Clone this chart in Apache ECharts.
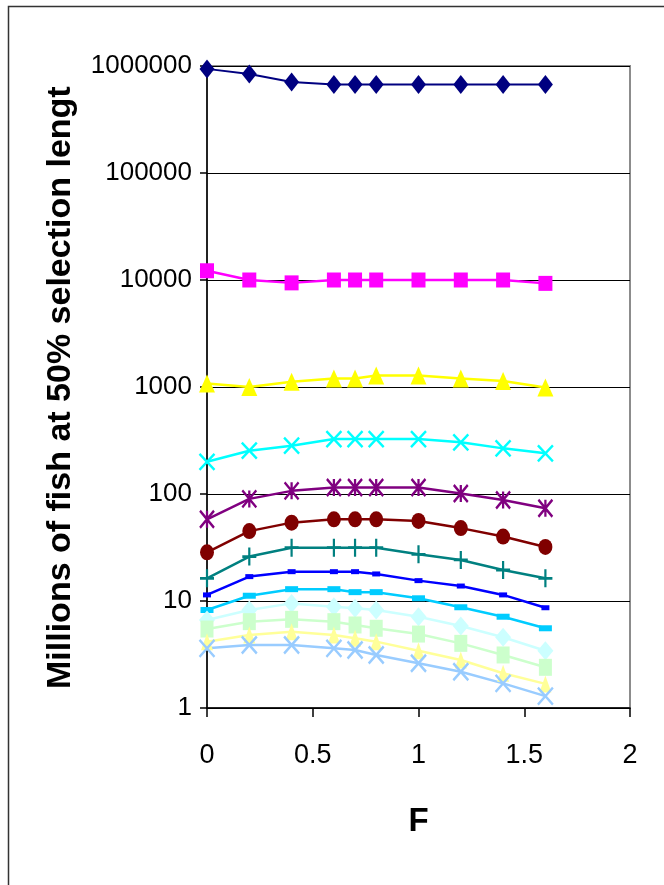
<!DOCTYPE html>
<html>
<head>
<meta charset="utf-8">
<script src="https://cdn.jsdelivr.net/npm/echarts@6/dist/echarts.min.js"></script>
<style>
html,body{margin:0;padding:0;background:#fff;}
#chart{width:664px;height:885px;}
</style>
</head>
<body>
<div id="chart"></div>
<script>
// F values (x axis)
const F = [0, 0.2, 0.4, 0.6, 0.7, 0.8, 1.0, 1.2, 1.4, 1.6];
// Millions of fish, one array per series (top to bottom)
const s1 = [940000, 840000, 710000, 670000, 670000, 670000, 670000, 670000, 670000, 670000];
const s2 = [12200, 10000, 9400, 10000, 10000, 10000, 10000, 10000, 10000, 9300];
const s3 = [1080, 1000, 1120, 1200, 1200, 1280, 1280, 1200, 1140, 990];
const s4 = [200, 254, 283, 326, 326, 326, 326, 304, 267, 240];
const s5 = [58, 90, 107, 115, 115, 115, 115, 101, 88, 73.5];
const s6 = [28.5, 45, 54, 58, 58, 58, 56, 48, 40, 32];
const s7 = [16.3, 26, 31.5, 31.5, 31.5, 31.5, 27.3, 24.2, 19.5, 16.3];
const s8 = [11.4, 16.9, 18.8, 18.8, 18.8, 17.9, 15.5, 13.8, 11.4, 8.65];
const s9 = [8.24, 11.2, 12.9, 12.9, 12.1, 12.1, 10.6, 8.74, 7.13, 5.56];
const s10 = [6.64, 8.24, 9.5, 8.85, 8.55, 8.24, 7.13, 5.84, 4.58, 3.43];
const s11 = [5.47, 6.41, 6.74, 6.41, 5.97, 5.56, 4.91, 4.02, 3.13, 2.40];
const s12 = [4.17, 4.81, 5.17, 4.81, 4.48, 4.17, 3.43, 2.81, 2.11, 1.68];
const s13 = [3.61, 3.88, 3.88, 3.61, 3.48, 3.13, 2.62, 2.18, 1.70, 1.29];
// axis tick labels
const xTicks = [0, 0.5, 1, 1.5, 2];
const yTicks = [1, 10, 100, 1000, 10000, 100000, 1000000];

const X_SYM = 'path://M0,0L10,10M10,0L0,10';
const STAR_SYM = 'path://M0,0L10,10M10,0L0,10M5,0L5,10';
const PLUS_SYM = 'path://M5,0L5,10M0,5L10,5';

const styles = [
  {d: s1,  c: '#000080', sym: 'diamond',  size: [15, 19], lw: 2},
  {d: s2,  c: '#FF00FF', sym: 'rect',     size: [14, 15], lw: 2.5},
  {d: s3,  c: '#FFFF00', sym: 'triangle', size: [16, 18], lw: 2.5},
  {d: s4,  c: '#00FFFF', sym: X_SYM,      size: [15, 16], lw: 2.5, stroke: true},
  {d: s5,  c: '#800080', sym: STAR_SYM,   size: [14, 17], lw: 2.5, stroke: true},
  {d: s6,  c: '#800000', sym: 'circle',   size: [14, 16], lw: 2.5},
  {d: s7,  c: '#008080', sym: PLUS_SYM,   size: [14, 18], lw: 2.5, stroke: true},
  {d: s8,  c: '#0000FF', sym: 'rect',     size: [8, 5],   lw: 2.5},
  {d: s9,  c: '#00CCFF', sym: 'rect',     size: [13, 6],  lw: 2.5},
  {d: s10, c: '#CCFFFF', sym: 'diamond',  size: [16, 19], lw: 2.5},
  {d: s11, c: '#CCFFCC', sym: 'rect',     size: [13, 17], lw: 2.5},
  {d: s12, c: '#FFFF99', sym: 'triangle', size: [12, 17], lw: 2.5},
  {d: s13, c: '#99CCFF', sym: X_SYM,      size: [15, 17], lw: 2.5, stroke: true}
];

const series = styles.map(function (s) {
  return {
    type: 'line',
    data: F.map(function (f, i) { return [f, s.d[i]]; }),
    symbol: s.sym,
    symbolSize: s.size,
    showAllSymbol: true,
    lineStyle: {color: s.c, width: s.lw},
    itemStyle: s.stroke
      ? {color: s.c, borderColor: s.c, borderWidth: 2.5}
      : {color: s.c, borderWidth: 0},
    emphasis: {disabled: true}
  };
});

const chart = echarts.init(document.getElementById('chart'), null, {renderer: 'canvas'});
const numFont = "'Liberation Sans', Arial, sans-serif";
chart.setOption({
  animation: false,
  backgroundColor: '#ffffff',
  grid: {
    left: 207, top: 66, right: 34, bottom: 177,
    show: true, borderColor: '#8c8c8c', borderWidth: 2,
    outerBoundsMode: 'none', containLabel: false
  },
  xAxis: {
    type: 'value',
    min: xTicks[0], max: xTicks[xTicks.length - 1], interval: 0.5,
    axisLine: {show: true, lineStyle: {color: '#000', width: 1.5}},
    axisTick: {show: true, inside: false, length: 9, lineStyle: {color: '#000', width: 1.5}},
    splitLine: {show: false},
    axisLabel: {
      margin: 34, color: '#000', fontSize: 27, fontFamily: numFont,
      formatter: function (v) { return String(v); }
    },
    name: 'F',
    nameLocation: 'middle',
    nameGap: 97,
    nameTextStyle: {color: '#000', fontSize: 33, fontWeight: 'bold', fontFamily: numFont}
  },
  yAxis: {
    type: 'log', logBase: 10,
    min: yTicks[0], max: yTicks[yTicks.length - 1],
    axisLine: {show: true, lineStyle: {color: '#000', width: 1.5}},
    axisTick: {show: true, inside: false, length: 7, lineStyle: {color: '#000', width: 1.5}},
    splitLine: {show: true, lineStyle: {color: '#000', width: 1}},
    minorTick: {show: false},
    axisLabel: {
      margin: 15, color: '#000', fontSize: 26, fontFamily: numFont,
      formatter: function (v) { return String(Math.round(v)); }
    }
  },
  graphic: [
    {
      type: 'rect', silent: true, z: 100,
      shape: {x: 8.5, y: 6.5, width: 700, height: 900},
      style: {fill: 'none', stroke: '#333', lineWidth: 1.5}
    },
    {
      type: 'text', silent: true, z: 100,
      x: 61, y: 689, rotation: Math.PI / 2,
      style: {
        text: 'Millions of fish at 50% selection length',
        fill: '#000',
        font: "bold 34px 'Liberation Sans', Arial, sans-serif",
        align: 'left', verticalAlign: 'middle',
        width: 619, overflow: 'truncate', ellipsis: ''
      }
    }
  ],
  series: series
});
</script>
</body>
</html>
